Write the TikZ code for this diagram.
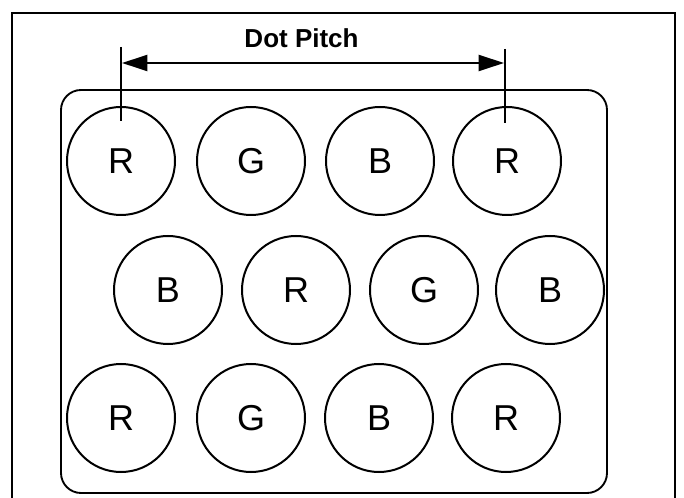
\documentclass[tikz,border=0pt]{standalone}
\usepackage{fontspec}
\setmainfont{Liberation Sans}
\usetikzlibrary{arrows.meta, calc}
\tikzset{
  phosphor/.style={circle, draw=black, line width=1.5pt,
    minimum size=81pt, inner sep=0pt, font=\fontsize{27}{27}\selectfont},
  frame/.style={draw=black, line width=1.5pt},
  mask/.style={draw=black, line width=1.4pt, rounded corners=15pt},
  bar/.style={line width=2.2pt},
  pitch/.style={{Triangle[length=19pt, width=12pt]}-{Triangle[length=19pt, width=12pt]}, line width=1.6pt},
  plabel/.style={font=\bfseries\fontsize{19.5}{19.5}\selectfont, inner sep=0pt}
}

\begin{document}
\begin{tikzpicture}[x=0.75pt, y=-0.75pt]
\useasboundingbox (0,0) rectangle (684,498);

% Outer frame (open at the bottom edge)
\draw[frame] (12,498) -- (12,13) -- (675,13) -- (675,498);

% Shadow mask
\draw[mask] (61,90) rectangle (607,493);

% ── Top row ──────────────────────────────────────────────
\node[phosphor] (dot11) at (121,161) {R};
\node[phosphor] (dot12) at (251,161) {G};
\node[phosphor] (dot13) at (380,161) {B};
\node[phosphor] (dot14) at (507,161) {R};

% ── Middle row ──────────────────────────────────────────────
\node[phosphor] (dot21) at (168,290) {B};
\node[phosphor] (dot22) at (296,290) {R};
\node[phosphor] (dot23) at (424,290) {G};
\node[phosphor] (dot24) at (550,290) {B};

% ── Bottom row ──────────────────────────────────────────────
\node[phosphor] (dot31) at (121,418) {R};
\node[phosphor] (dot32) at (251,418) {G};
\node[phosphor] (dot33) at (379,418) {B};
\node[phosphor] (dot34) at (506,418) {R};

% ── Dot pitch dimension ──────────────────────────────────────
\coordinate (barLtop) at ($(dot11.north)+(0,-59)$);
\coordinate (barLbot) at ($(dot11.north)+(0,15)$);
\coordinate (barRtop) at ($(dot14.north)+(-2,-57)$);
\coordinate (barRbot) at ($(dot14.north)+(-2,17)$);
\draw[bar] (barLtop) -- (barLbot);
\draw[bar] (barRtop) -- (barRbot);

\coordinate (pitchL) at ($(dot11.north)+(1,-43)$);
\coordinate (pitchR) at ($(dot14.north)+(-3,-43)$);
\draw[pitch] (pitchL) -- (pitchR);
\node[plabel] (pitchtext) at ($(pitchL)!0.47!(pitchR)+(0,-25)$) {Dot Pitch};

\end{tikzpicture}
\end{document}
